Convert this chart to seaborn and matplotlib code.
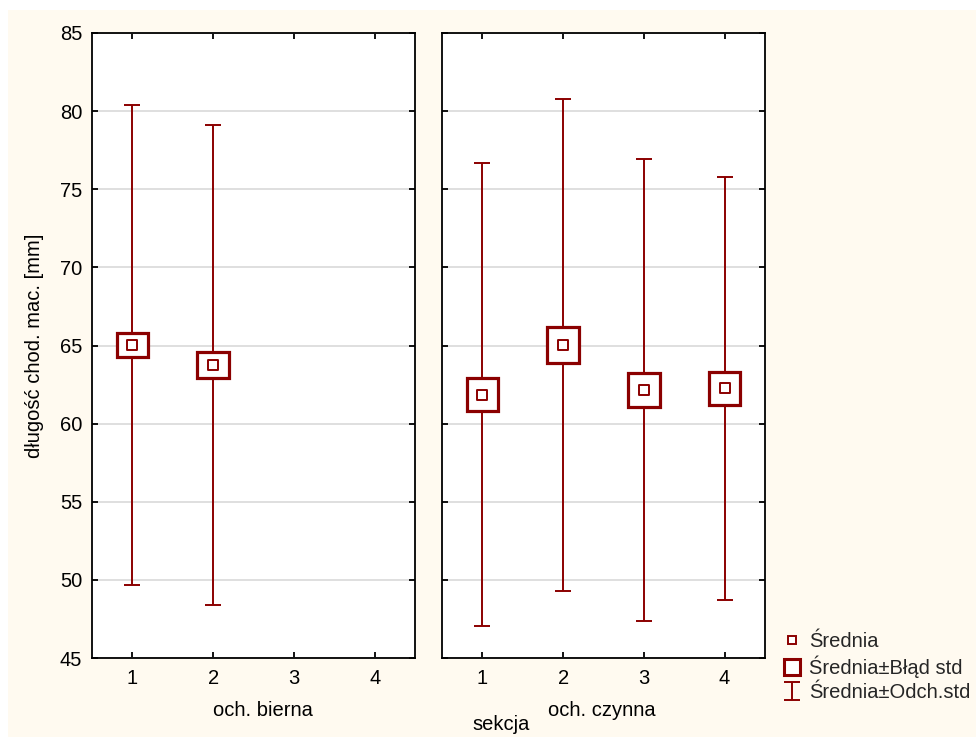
import numpy as np
import pandas as pd
import matplotlib
matplotlib.use("Agg")
import matplotlib.pyplot as plt
from matplotlib.lines import Line2D
from matplotlib.path import Path
from matplotlib.patches import Rectangle
import seaborn as sns

# ---- data ----
groups = ["och. bierna", "och. czynna"]
sections = [1, 2, 3, 4]
bierna_x = [1, 2]
bierna_mean = [65.04, 63.76]
bierna_se = [0.78, 0.82]
bierna_sd = [15.37, 15.35]
czynna_x = [1, 2, 3, 4]
czynna_mean = [61.85, 65.03, 62.15, 62.26]
czynna_se = [1.04, 1.16, 1.08, 1.07]
czynna_sd = [14.81, 15.75, 14.80, 13.53]
y_ticks = [45, 50, 55, 60, 65, 70, 75, 80, 85]
ylabel = "długość chod. mac. [mm]"
xlabel_common = "sekcja"
legend_labels = ["Średnia", "Średnia±Błąd std", "Średnia±Odch.std"]

RED = "#8B0000"
CREAM = "#FFFAF0"
FS = 14.5

sns.set_theme(style="ticks")
plt.rcParams["font.family"] = ["Liberation Sans", "DejaVu Sans"]

W, H = 976, 737
fig = plt.figure(figsize=(W / 100, H / 100), dpi=100, facecolor="white")
fig.patches.append(Rectangle((8 / W, 0), 1 - 8 / W, 1 - 10 / H, transform=fig.transFigure,
                             facecolor=CREAM, edgecolor="none", zorder=-10))

ax_b = fig.add_axes([92 / W, 1 - 658 / H, 323 / W, 625 / H])
ax_c = fig.add_axes([442 / W, 1 - 658 / H, 323 / W, 625 / H])

def draw(ax, xs, mean, se, sd, label):
    df = pd.DataFrame({"x": xs, "mean": mean, "se": se, "sd": sd})
    ax.set_facecolor("white")
    ax.grid(axis="y", color="#dcdcdc", lw=1.3, zorder=0)
    ax.errorbar(df["x"], df["mean"], yerr=df["sd"], fmt="none", ecolor=RED,
                elinewidth=1.4, capsize=5.8, capthick=1.4, zorder=2)
    ax.bar(df["x"], 2 * df["se"], bottom=df["mean"] - df["se"], width=0.39,
           facecolor="white", edgecolor=RED, linewidth=2.3, zorder=3)
    sns.scatterplot(data=df, x="x", y="mean", ax=ax, marker="s", s=42,
                    facecolor="white", edgecolor=RED, linewidth=1.4, zorder=4,
                    legend=False)
    ax.set_xlim(0.5, 4.5)
    ax.set_ylim(45, 85)
    ax.set_xticks(sections)
    ax.set_xticklabels([str(s) for s in sections])
    ax.set_yticks(y_ticks)
    for sp in ax.spines.values():
        sp.set_visible(True)
        sp.set_color("black")
        sp.set_linewidth(1.3)
    ax.tick_params(direction="in", length=4, width=1.3, colors="black",
                   top=True, right=True, labelsize=FS)
    ax.tick_params(axis="x", pad=8)
    ax.tick_params(axis="y", pad=7)
    ax.set_xlabel(label, fontsize=FS, color="black")
    ax.set_ylabel("")

draw(ax_b, bierna_x, bierna_mean, bierna_se, bierna_sd, groups[0])
draw(ax_c, czynna_x, czynna_mean, czynna_se, czynna_sd, groups[1])
ax_c.tick_params(axis="y", labelleft=False)

ax_b.xaxis.set_label_coords((263 - 92) / 323, -(710 - 658) / 625)
ax_b.xaxis.label.set_va("center")
ax_c.xaxis.set_label_coords((602 - 442) / 323, -(710 - 658) / 625)
ax_c.xaxis.label.set_va("center")

ax_b.set_ylabel(ylabel, fontsize=FS, color="black")
ax_b.yaxis.set_label_coords((35 - 92) / 323, 0.5)
ax_b.yaxis.label.set_va("center")

fig.text(501 / W, 1 - 725 / H, xlabel_common, ha="center", va="center", fontsize=FS, color="black")

# legend
ibar = Path([(-0.9, -1), (0.9, -1), (0, -1), (0, 1), (-0.9, 1), (0.9, 1)],
            [Path.MOVETO, Path.LINETO, Path.MOVETO, Path.LINETO, Path.MOVETO, Path.LINETO])
handles = [
    Line2D([], [], ls="none", marker="s", ms=5.8, mfc="white", mec=RED, mew=1.4),
    Line2D([], [], ls="none", marker="s", ms=11, mfc="white", mec=RED, mew=2.2),
    Line2D([], [], ls="none", marker=ibar, ms=12.5, mfc="none", mec=RED, mew=1.4),
]
fig.legend(handles, legend_labels, loc="center left",
           bbox_to_anchor=(782 / W, 1 - 667 / H), frameon=False,
           fontsize=FS, borderpad=0, borderaxespad=0, handlelength=0.95,
           handletextpad=0.4, labelspacing=0.24)

fig.savefig("out.png", dpi=100, facecolor=fig.get_facecolor())
